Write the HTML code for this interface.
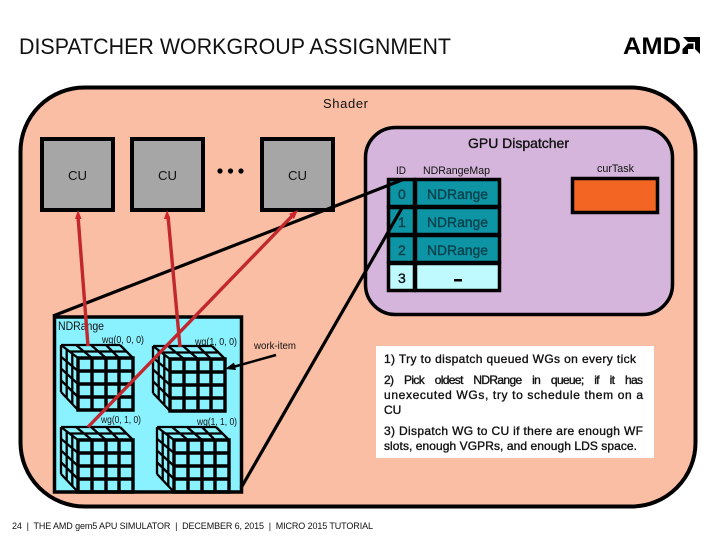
<!DOCTYPE html>
<html><head><meta charset="utf-8"><style>
html,body{margin:0;padding:0;background:#fff;width:720px;height:540px;overflow:hidden}
svg{display:block}
text{font-family:"Liberation Sans",sans-serif;fill:#111}
.semi{stroke:#111;stroke-width:.35px}
.semit{stroke:#06434d;stroke-width:.4px}
</style></head><body>
<svg width="720" height="540" viewBox="0 0 720 540" xmlns="http://www.w3.org/2000/svg">
<defs>
<g id="cube" fill="none" stroke="#000">
<path stroke-width="2.3" d="M0 0L17 13M15 0L31 13M30 0L45 13M45 0L58 13M59 0L72 13M0 0H59M8 6.5H66M0 0V47M5.7 4.3V53M11.3 8.7V59M0 11.75L17 26M0 23.5L17 39M0 35.25L17 52M0 47L17 65"/>
<path stroke-width="3.4" d="M17 13H72V65H17ZM31 13V65M45 13V65M58 13V65M17 26H72M17 39H72M17 52H72"/>
</g>
</defs>

<text x="19" y="54" font-size="22" textLength="432" lengthAdjust="spacingAndGlyphs">DISPATCHER WORKGROUP ASSIGNMENT</text>
<text x="623" y="54" font-size="24" font-weight="bold" textLength="58" lengthAdjust="spacingAndGlyphs" style="fill:#000">AMD</text>
<path d="M683 37H700V54L695 49V42H688Z M688 43.5H693.5V49H688V54H682.5V49Z" fill="#000"/>

<rect x="20.5" y="87.5" width="675" height="419" rx="64" fill="#f9bea4" stroke="#000" stroke-width="4"/>
<text x="323" y="108" font-size="13" textLength="45" lengthAdjust="spacing">Shader</text>

<rect x="365.5" y="127.5" width="307" height="187" rx="30" fill="#d5b5db" stroke="#000" stroke-width="3.5"/>
<text x="468" y="148" font-size="14" textLength="101" lengthAdjust="spacingAndGlyphs" class="semi">GPU Dispatcher</text>

<g fill="#a6a6a6" stroke="#000" stroke-width="4">
<rect x="42" y="139" width="71" height="71"/>
<rect x="132" y="139" width="71" height="71"/>
<rect x="262" y="139" width="71" height="71"/>
</g>
<g font-size="13">
<text x="68" y="180" textLength="19" lengthAdjust="spacingAndGlyphs">CU</text>
<text x="158" y="180" textLength="19" lengthAdjust="spacingAndGlyphs">CU</text>
<text x="288" y="180" textLength="19" lengthAdjust="spacingAndGlyphs">CU</text>
</g>
<circle cx="220" cy="171" r="2.6"/><circle cx="230.5" cy="171" r="2.6"/><circle cx="241" cy="171" r="2.6"/>

<text x="396" y="174" font-size="11" textLength="10" lengthAdjust="spacingAndGlyphs">ID</text>
<text x="423" y="174" font-size="11" textLength="67" lengthAdjust="spacingAndGlyphs">NDRangeMap</text>
<text x="597" y="172" font-size="11" textLength="37" lengthAdjust="spacingAndGlyphs">curTask</text>

<g stroke="#000" stroke-width="3.5">
<rect x="388.5" y="179.5" width="26" height="27" fill="#0e95a5"/>
<rect x="415.5" y="179.5" width="84" height="27" fill="#0e95a5"/>
<rect x="388.5" y="207.5" width="26" height="27" fill="#0e95a5"/>
<rect x="415.5" y="207.5" width="84" height="27" fill="#0e95a5"/>
<rect x="388.5" y="235.5" width="26" height="27" fill="#0e95a5"/>
<rect x="415.5" y="235.5" width="84" height="27" fill="#0e95a5"/>
<rect x="388.5" y="263.5" width="26" height="27" fill="#bffaff"/>
<rect x="415.5" y="263.5" width="84" height="27" fill="#bffaff"/>
<rect x="572.5" y="178.5" width="85" height="34" fill="#f26522"/>
</g>
<g font-size="14">
<text x="398" y="199" class="semit" style="fill:#06434d">0</text>
<text x="398" y="227" class="semit" style="fill:#06434d">1</text>
<text x="398" y="255" class="semit" style="fill:#06434d">2</text>
<text x="398" y="283" class="semi">3</text>
<text x="427" y="199" textLength="61" lengthAdjust="spacingAndGlyphs" class="semit" style="fill:#06434d">NDRange</text>
<text x="427" y="227" textLength="61" lengthAdjust="spacingAndGlyphs" class="semit" style="fill:#06434d">NDRange</text>
<text x="427" y="255" textLength="61" lengthAdjust="spacingAndGlyphs" class="semit" style="fill:#06434d">NDRange</text>
</g>
<rect x="454" y="279" width="8" height="2.5" fill="#000"/>

<rect x="54.5" y="317" width="187" height="175" fill="#8af2ff" stroke="#000" stroke-width="3.5"/>
<text x="58" y="330" font-size="12" textLength="46" lengthAdjust="spacingAndGlyphs">NDRange</text>
<g font-size="10">
<text x="102" y="343" textLength="42" lengthAdjust="spacingAndGlyphs">wg(0, 0, 0)</text>
<text x="195" y="345" textLength="42" lengthAdjust="spacingAndGlyphs">wg(1, 0, 0)</text>
<text x="101" y="423" textLength="40" lengthAdjust="spacingAndGlyphs">wg(0, 1, 0)</text>
<text x="197" y="425" textLength="40" lengthAdjust="spacingAndGlyphs">wg(1, 1, 0)</text>
<text x="254" y="349" textLength="42" lengthAdjust="spacingAndGlyphs">work-item</text>
</g>
<use href="#cube" x="61" y="345"/>
<use href="#cube" x="153" y="346"/>
<use href="#cube" x="61" y="427"/>
<use href="#cube" x="157" y="427"/>

<g fill="none" stroke="#000" stroke-width="3.2">
<path d="M402 180L53 316"/>
<path d="M402 208L241 488"/>
</g>
<g fill="none" stroke="#c1272d" stroke-width="3.4">
<path d="M88 346L78 216"/>
<path d="M180 347L168 216"/>
<path d="M88 427L295 213"/>
</g>
<g fill="#d2232a">
<path d="M78 210L75 219H81.5Z"/>
<path d="M167 210L164 219H170.5Z"/>
<path d="M298 210L289 214L294 219Z"/>
</g>
<path d="M276 355L233 367" stroke="#000" stroke-width="2.5" fill="none"/>
<path d="M225 369L234 362.5L236 370Z" fill="#000"/>

<rect x="376" y="346" width="278" height="112" fill="#fff"/>
<g font-size="12" class="semi">
<text x="384" y="363" textLength="252" lengthAdjust="spacing">1) Try to dispatch queued WGs on every tick</text>
<text x="384" y="384" textLength="259" lengthAdjust="spacing" word-spacing="8">2) Pick oldest NDRange in queue; if it has</text>
<text x="384" y="399" textLength="259" lengthAdjust="spacing">unexecuted WGs, try to schedule them on a</text>
<text x="384" y="414">CU</text>
<text x="384" y="435" textLength="259" lengthAdjust="spacing">3) Dispatch WG to CU if there are enough WF</text>
<text x="384" y="450" textLength="253" lengthAdjust="spacing">slots, enough VGPRs, and enough LDS space.</text>
</g>

<text x="12" y="529" font-size="9" textLength="361" lengthAdjust="spacing" xml:space="preserve">24  |  THE AMD gem5 APU SIMULATOR  |  DECEMBER 6, 2015  |  MICRO 2015 TUTORIAL</text>
</svg>
</body></html>
